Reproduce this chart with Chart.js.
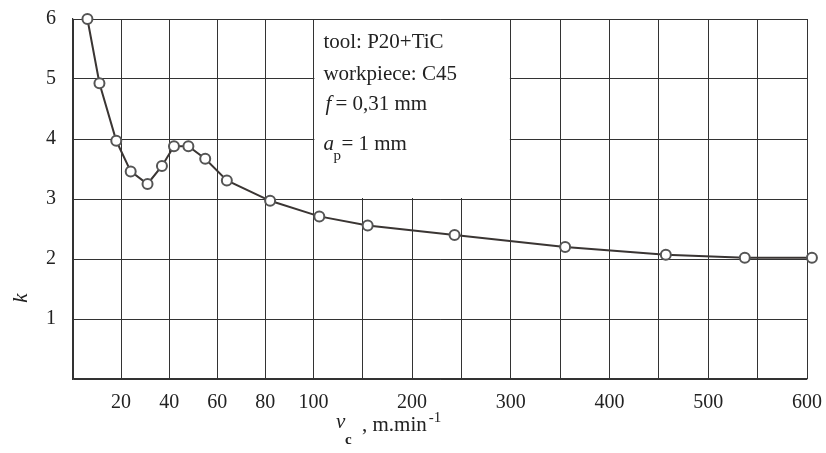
<!DOCTYPE html>
<html>
<head>
<meta charset="utf-8">
<script src="https://cdn.jsdelivr.net/npm/chart.js@4/dist/chart.umd.min.js"></script>
<style>
html,body{margin:0;padding:0;background:#fff;}
#wrap{width:826px;height:453px;position:relative;}
</style>
</head>
<body>
<div id="wrap"><canvas id="c" width="826" height="453"></canvas></div>
<script>
// ---- data ----
const vcValues = [6, 11, 18, 24, 31, 37, 42, 48, 55, 64, 82, 106, 155, 243, 355, 457, 537, 605];
const kValues  = [6.0, 4.93, 3.97, 3.46, 3.25, 3.55, 3.88, 3.88, 3.67, 3.31, 2.97, 2.71, 2.56, 2.40, 2.20, 2.07, 2.02, 2.02];
const xGridValues = [0, 20, 40, 60, 80, 100, 150, 200, 250, 300, 350, 400, 450, 500, 550, 600];
const xTickLabels = [20, 40, 60, 80, 100, 200, 300, 400, 500, 600];
const yTickLabels = [1, 2, 3, 4, 5, 6];
const boxLines = ['tool: P20+TiC', 'workpiece: C45', 'f = 0,31 mm', 'a_p = 1 mm'];

// ---- piecewise scale: 0-100 expanded, 100-600 compressed ----
const BREAK = 100, SPLIT = 0.3275;
class PiecewiseScale extends Chart.LinearScale {
  _frac(v) {
    const min = this.min, max = this.max;
    if (v <= BREAK) return (v - min) / (BREAK - min) * SPLIT;
    return SPLIT + (v - BREAK) / (max - BREAK) * (1 - SPLIT);
  }
  getPixelForValue(v) { return this.getPixelForDecimal(this._frac(v)); }
  getValueForPixel(p) {
    const d = this.getDecimalForPixel(p);
    if (d <= SPLIT) return this.min + d / SPLIT * (BREAK - this.min);
    return BREAK + (d - SPLIT) / (1 - SPLIT) * (this.max - BREAK);
  }
}
PiecewiseScale.id = 'piecewise';
PiecewiseScale.defaults = Chart.LinearScale.defaults;
Chart.register(PiecewiseScale);

const SERIF = '"Liberation Serif", "Times New Roman", serif';
const GRID = '#333';

const overlay = {
  id: 'overlay',
  beforeDatasetsDraw(chart) {
    const ctx = chart.ctx, xs = chart.scales.x, ys = chart.scales.y;
    const x0 = xs.getPixelForValue(100) + 1, x1 = xs.getPixelForValue(300) - 1;
    const y0 = ys.getPixelForValue(6) + 1, y1 = ys.getPixelForValue(3) - 1;
    ctx.save();
    ctx.fillStyle = '#fff';
    ctx.fillRect(x0, y0, x1 - x0, y1 - y0);
    ctx.fillStyle = '#222';
    ctx.textBaseline = 'alphabetic';
    ctx.textAlign = 'left';
    const tx = x0 + 9;
    ctx.font = '21px ' + SERIF;
    ctx.fillText(boxLines[0], tx, 48);
    ctx.fillText(boxLines[1], tx, 80);
    // f = 0,31 mm
    ctx.font = 'italic 21px ' + SERIF;
    ctx.fillText('f', tx + 2, 110);
    ctx.font = '21px ' + SERIF;
    ctx.fillText('= 0,31 mm', tx + 12, 110);
    // a_p = 1 mm
    ctx.font = 'italic 21px ' + SERIF;
    ctx.fillText('a', tx, 150);
    ctx.font = '15px ' + SERIF;
    ctx.fillText('p', tx + 10, 160);
    ctx.font = '21px ' + SERIF;
    ctx.fillText('= 1 mm', tx + 18, 150);
    ctx.restore();
  },
  afterDraw(chart) {
    const ctx = chart.ctx;
    ctx.save();
    ctx.fillStyle = '#222';
    ctx.textBaseline = 'alphabetic';
    // x title
    let x = 336;
    ctx.font = 'italic 21px ' + SERIF;
    ctx.textAlign = 'left';
    ctx.fillText('v', x, 428);
    ctx.font = 'bold 15px ' + SERIF;
    ctx.fillText('c', x + 9, 444);
    ctx.font = '21px ' + SERIF;
    ctx.fillText(', m.min', x + 26, 431);
    const w = ctx.measureText(', m.min').width;
    ctx.font = '15px ' + SERIF;
    ctx.fillText('-1', x + 26 + w + 2, 422);
    // y title
    ctx.translate(21, 298);
    ctx.rotate(-Math.PI / 2);
    ctx.font = 'italic 21px ' + SERIF;
    ctx.textAlign = 'center';
    ctx.textBaseline = 'middle';
    ctx.fillText('k', 0, 0);
    ctx.restore();
  }
};

new Chart(document.getElementById('c'), {
  type: 'line',
  data: {
    datasets: [{
      data: vcValues.map((v, i) => ({ x: v, y: kValues[i] })),
      borderColor: '#3a3533',
      borderWidth: 2,
      pointRadius: 5,
      pointBackgroundColor: '#fff',
      pointBorderColor: '#555',
      pointBorderWidth: 2,
      tension: 0,
      clip: false
    }]
  },
  options: {
    responsive: false,
    animation: false,
    devicePixelRatio: 1,
    layout: { padding: { left: 0, right: 19, top: 19, bottom: 0 } },
    plugins: { legend: { display: false }, tooltip: { enabled: false } },
    scales: {
      x: {
        type: 'piecewise',
        min: 0, max: 600,
        afterBuildTicks: s => { s.ticks = xGridValues.map(v => ({ value: v })); },
        afterFit: s => { s.height = 74; s.paddingLeft = 0; s.paddingRight = 0; },
        grid: { color: GRID, lineWidth: 1, drawTicks: false },
        border: { color: GRID, width: 1.2 },
        ticks: {
          autoSkip: false, maxRotation: 0, padding: 12, color: '#222',
          font: { family: SERIF, size: 20 },
          callback: v => xTickLabels.includes(v) ? String(v) : ''
        }
      },
      y: {
        type: 'linear',
        min: 0, max: 6,
        afterBuildTicks: s => { s.ticks = [0].concat(yTickLabels).map(v => ({ value: v })); },
        afterFit: s => { s.width = 73; s.paddingTop = 0; s.paddingBottom = 0; },
        grid: { color: GRID, lineWidth: 1, drawTicks: false },
        border: { color: GRID, width: 1.2 },
        ticks: {
          padding: 17, color: '#222',
          font: { family: SERIF, size: 20 },
          callback: v => yTickLabels.includes(v) ? String(v) : ''
        }
      }
    }
  },
  plugins: [overlay]
});
</script>
</body>
</html>
